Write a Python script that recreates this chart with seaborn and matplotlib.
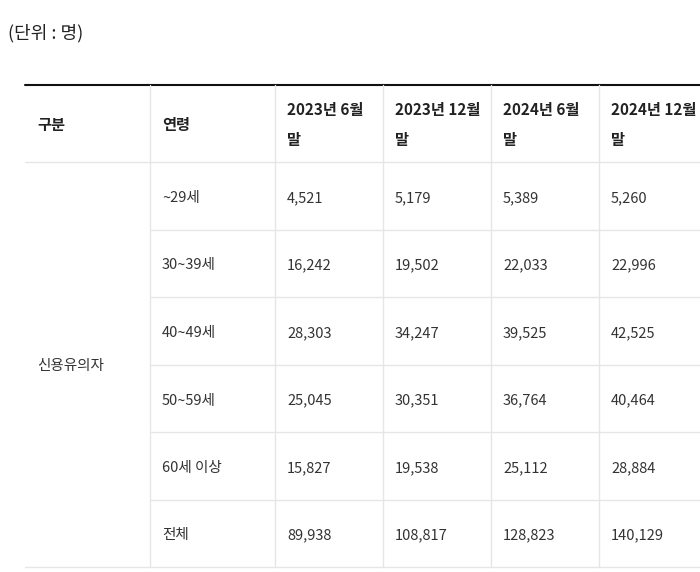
import matplotlib
matplotlib.use("Agg")
import matplotlib.pyplot as plt
import seaborn as sns

sns.set_theme(style="white")
plt.rcParams["font.family"] = "Noto Sans CJK KR"

unit_label = "(단위 : 명)"
headers = ["구분", "연령", "2023년 6월\n말", "2023년 12월\n말", "2024년 6월\n말", "2024년 12월\n말"]
group = "신용유의자"
ages = ["~29세", "30~39세", "40~49세", "50~59세", "60세 이상", "전체"]
jun23 = ["4,521", "16,242", "28,303", "25,045", "15,827", "89,938"]
dec23 = ["5,179", "19,502", "34,247", "30,351", "19,538", "108,817"]
jun24 = ["5,389", "22,033", "39,525", "36,764", "25,112", "128,823"]
dec24 = ["5,260", "22,996", "42,525", "40,464", "28,884", "140,129"]

fig = plt.figure(figsize=(7, 5.72), dpi=100)
ax = fig.add_axes([0, 0, 1, 1])
ax.set_xlim(0, 700); ax.set_ylim(572, 0); ax.axis("off")

cols = [25, 150, 275, 383, 491, 599, 700]
rows = [85, 162, 230, 297, 365, 432, 500, 567]
line_c = "#e6e6e6"
txt_c = "#333333"

ax.text(8, 33, unit_label, fontsize=13, color="#222222", va="center", ha="left")
ax.plot([25, 700], [85, 85], color="#111111", lw=1.5)
ax.plot([25, 700], [567, 567], color=line_c, lw=1)
ax.plot([25, 700], [162, 162], color=line_c, lw=1)
for y in rows[2:-1]:
    ax.plot([150, 700], [y, y], color=line_c, lw=1)
for x in cols[1:-1]:
    ax.plot([x, x], [85, 567], color=line_c, lw=1)

for i, h in enumerate(headers):
    ax.text(cols[i] + 12, 125, h, fontsize=11, fontweight="bold", color="#222222",
            va="center", ha="left", linespacing=2.0)

ax.text(37, 366, group, fontsize=10.5, color=txt_c, va="center", ha="left")
for r in range(6):
    yc = (rows[r + 1] + rows[r + 2]) / 2 + 2
    vals = [ages[r], jun23[r], dec23[r], jun24[r], dec24[r]]
    for j, v in enumerate(vals):
        ax.text(cols[j + 1] + 12, yc, v, fontsize=10.5, color=txt_c, va="center", ha="left")

fig.savefig("out.png", dpi=100, facecolor="white")
